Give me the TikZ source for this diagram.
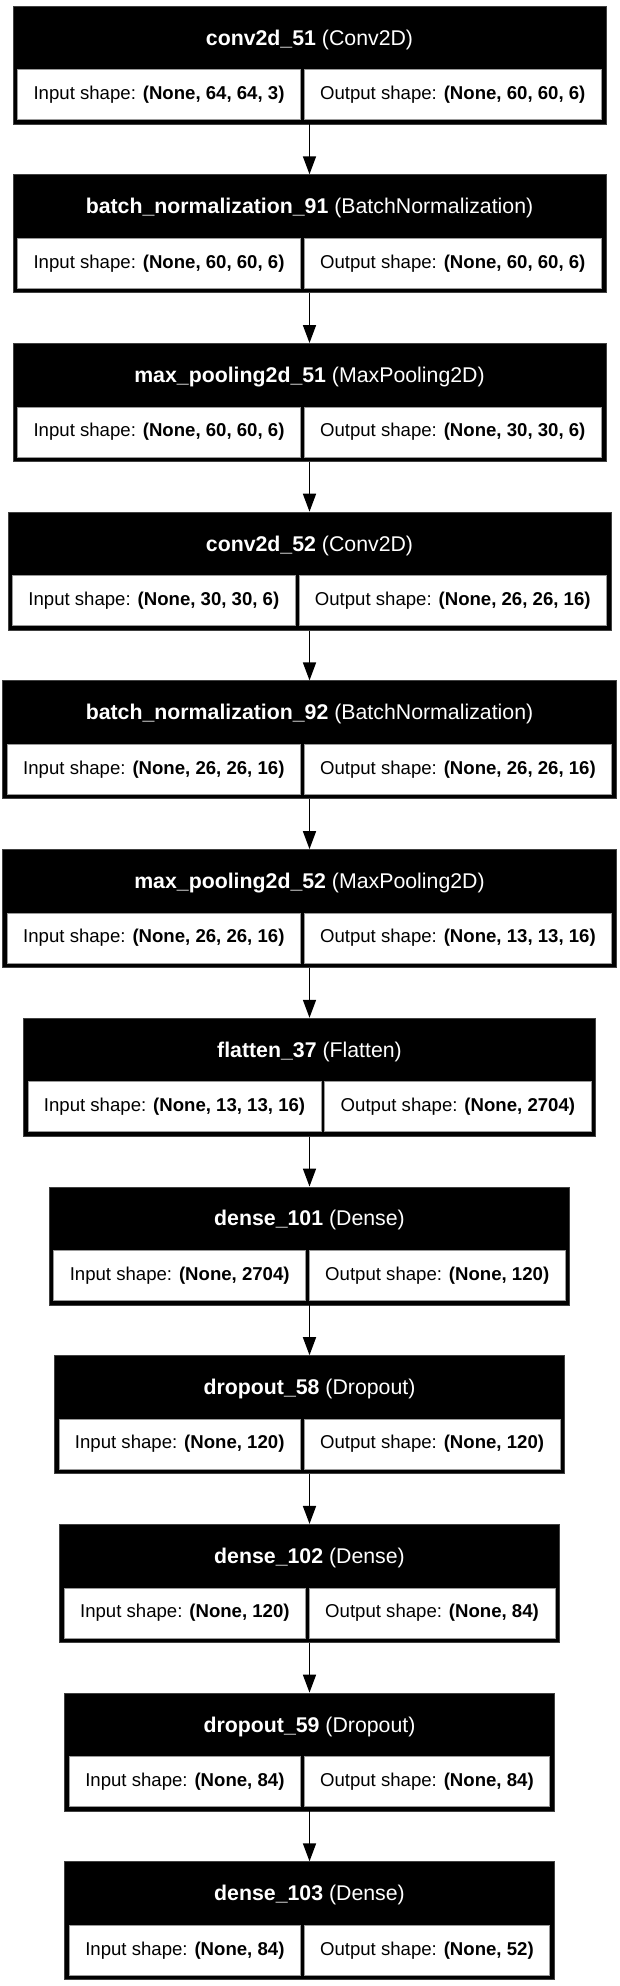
\documentclass[tikz,border=0pt]{standalone}
\usepackage{fontspec}
\setmainfont{Liberation Sans}
\usetikzlibrary{positioning,fit,backgrounds,calc,arrows.meta}
\tikzset{cellbox/.style={draw=black!40,fill=white,line width=0.6pt,minimum height=50pt,inner xsep=16pt,inner ysep=0pt,font=\fontsize{18.6}{22}\selectfont}}
\tikzset{outbox/.style={fill=black,draw=black!75,line width=0.8pt,inner sep=4pt}}
\tikzset{headtext/.style={text=white,inner sep=0pt,font=\fontsize{21.3}{25}\selectfont}}
\tikzset{flow/.style={-{Triangle[length=18pt,width=13pt]},line width=1.6pt}}
% #1 id, #2 top (px from page top), #3 name, #4 class, #5 input, #6 output
\newcommand\nnlayer[6]{%
  \matrix (m#1) [anchor=north,column sep=3pt,inner sep=0pt,ampersand replacement=\&] at (309.5,-#2-63)
    {\node[cellbox] (in#1) {Input shape: \textbf{#5}}; \& \node[cellbox] (out#1) {Output shape: \textbf{#6}};\\};
  \begin{scope}[on background layer]
    \node[outbox,fit={(m#1) ($(m#1.north)+(0,59)$)}] (box#1) {};
  \end{scope}
  \node[headtext] (head#1) at ($(m#1.north)+(0,29.5)$) {\textbf{#3} (#4)};
}
\begin{document}
\begin{tikzpicture}[x=1pt,y=1pt]
  \useasboundingbox (0,0) rectangle (619,-1986);
  \nnlayer{1}{6}{conv2d\_51}{Conv2D}{(None, 64, 64, 3)}{(None, 60, 60, 6)}
  \nnlayer{2}{174.7}{batch\_normalization\_91}{BatchNormalization}{(None, 60, 60, 6)}{(None, 60, 60, 6)}
  \nnlayer{3}{343.4}{max\_pooling2d\_51}{MaxPooling2D}{(None, 60, 60, 6)}{(None, 30, 30, 6)}
  \nnlayer{4}{512.1}{conv2d\_52}{Conv2D}{(None, 30, 30, 6)}{(None, 26, 26, 16)}
  \nnlayer{5}{680.8}{batch\_normalization\_92}{BatchNormalization}{(None, 26, 26, 16)}{(None, 26, 26, 16)}
  \nnlayer{6}{849.5}{max\_pooling2d\_52}{MaxPooling2D}{(None, 26, 26, 16)}{(None, 13, 13, 16)}
  \nnlayer{7}{1018.2}{flatten\_37}{Flatten}{(None, 13, 13, 16)}{(None, 2704)}
  \nnlayer{8}{1186.9}{dense\_101}{Dense}{(None, 2704)}{(None, 120)}
  \nnlayer{9}{1355.6}{dropout\_58}{Dropout}{(None, 120)}{(None, 120)}
  \nnlayer{10}{1524.3}{dense\_102}{Dense}{(None, 120)}{(None, 84)}
  \nnlayer{11}{1693}{dropout\_59}{Dropout}{(None, 84)}{(None, 84)}
  \nnlayer{12}{1861.7}{dense\_103}{Dense}{(None, 84)}{(None, 52)}
  \foreach \i [count=\j from 2] in {1,...,11}
    \draw[flow] (box\i.south) -- (box\j.north);
\end{tikzpicture}
\end{document}
